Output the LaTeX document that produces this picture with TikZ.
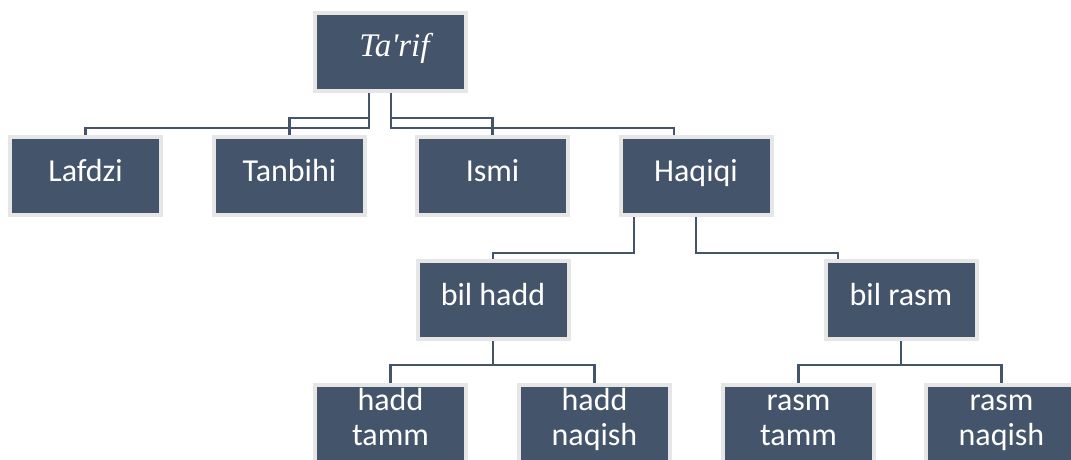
\documentclass[tikz,border=0pt]{standalone}
\usepackage{fontspec}
\setmainfont{Carlito}
\newfontfamily\tnr[Ligatures=TeXOff]{Liberation Serif}
\usetikzlibrary{calc}
\definecolor{boxfill}{HTML}{44546A}
\definecolor{boxrim}{HTML}{E6E6E6}
\begin{document}
\begin{tikzpicture}[x=1pt,y=-1pt,
  box/.style={rectangle, fill=boxfill, draw=boxrim, line width=4pt,
    minimum width=151pt, minimum height=78pt, inner sep=0pt, outer sep=2pt,
    text=white, font=\fontsize{32}{36}\selectfont},
  oneline/.style={text height=22pt, text depth=12pt},
  lbltop/.style={text=white, font=\fontsize{32}{36}\selectfont, inner sep=0pt,
    text height=22pt, text depth=12pt, yshift=19pt},
  lblbot/.style={text=white, font=\fontsize{32}{36}\selectfont, inner sep=0pt,
    text height=22pt, text depth=12pt, yshift=-16pt},
  conn/.style={draw=boxfill, line width=2.4pt}]
\useasboundingbox (0,0) rectangle (1071,460);
\clip (0,0) rectangle (1071,460);
% top
\node[box, oneline, font=\tnr\itshape\fontsize{33}{38}\selectfont] (tarif) at (390.5,52) {\hspace*{8pt}Ta'rif};
% level 1
\node[box, oneline] (lafdzi)  at (85.5,176)  {Lafdzi};
\node[box, oneline] (tanbihi) at (289.5,176) {Tanbihi};
\node[box, oneline] (ismi)    at (492.5,176) {Ismi};
\node[box, oneline] (haqiqi)  at (696,176)   {Haqiqi};
% level 2
\node[box, oneline] (bilhadd) at (493,300) {bil hadd};
\node[box, oneline] (bilrasm) at (901,300) {bil rasm};
% level 3
\node[box, label={[lbltop]center:hadd}, label={[lblbot]center:tamm}]   (haddtamm)   at (390.5,424)  {};
\node[box, label={[lbltop]center:hadd}, label={[lblbot]center:naqish}] (haddnaqish) at (594.5,424)  {};
\node[box, label={[lbltop]center:rasm}, label={[lblbot]center:tamm}]   (rasmtamm)   at (798.5,424)  {};
\node[box, label={[lbltop]center:rasm}, label={[lblbot]center:naqish}] (rasmnaqish) at (1001.5,424) {};
% connectors
\draw[conn] ([xshift=-21.5pt]tarif.south) |- ($(lafdzi.north)+(0,-7)$) -- (lafdzi.north);
\draw[conn] ([xshift=-21.5pt]tarif.south) |- ($(tanbihi.north)+(0,-17)$) -- (tanbihi.north);
\draw[conn] ([xshift=0.5pt]tarif.south) |- ($(ismi.north)+(0,-17)$) -- (ismi.north);
\draw[conn] ([xshift=0.5pt]tarif.south) |- ($([xshift=-22pt]haqiqi.north)+(0,-7)$) -- ([xshift=-22pt]haqiqi.north);
\draw[conn] ([xshift=-62pt]haqiqi.south) |- ($(bilhadd.north)+(0,-6)$) -- (bilhadd.north);
\draw[conn] (haqiqi.south) |- ($([xshift=-63pt]bilrasm.north)+(0,-6)$) -- ([xshift=-63pt]bilrasm.north);
\draw[conn] (bilhadd.south) |- ($(haddtamm.north)+(0,-18)$) -- (haddtamm.north);
\draw[conn] (bilhadd.south) |- ($(haddnaqish.north)+(0,-18)$) -- (haddnaqish.north);
\draw[conn] (bilrasm.south) |- ($(rasmtamm.north)+(0,-18)$) -- (rasmtamm.north);
\draw[conn] (bilrasm.south) |- ($(rasmnaqish.north)+(0,-18)$) -- (rasmnaqish.north);
\end{tikzpicture}
\end{document}
